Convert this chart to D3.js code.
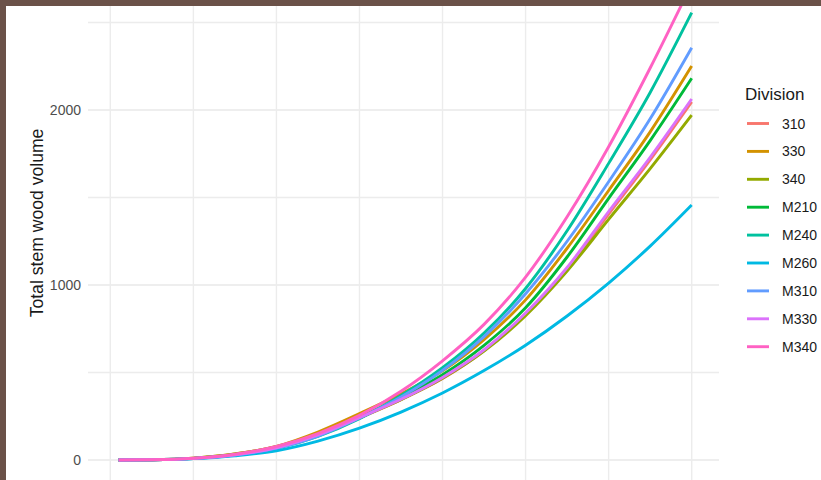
<!DOCTYPE html>
<html>
<head>
<meta charset="utf-8">
<script src="https://cdn.jsdelivr.net/npm/d3@7"></script>
<style>
  html, body { margin: 0; padding: 0; background: #ffffff; }
  svg { display: block; }
</style>
</head>
<body>
<script>
// Stem wood volume by diameter, one curve per ecological division
const divisions = ["310", "330", "340", "M210", "M240", "M260", "M310", "M330", "M340"];
const colors = ["#F8766D", "#D39200", "#93AA00", "#00BA38", "#00C19F", "#00B9E3", "#619CFF", "#DB72FB", "#FF61C3"];

const diameter = [1, 5, 10, 15, 20, 25, 30, 35, 40, 45, 50, 55, 60, 65, 70];
const vol310  = [0, 1.4, 9.5, 30, 70, 142, 240, 345, 465, 625, 835, 1090, 1405, 1715, 2046];
const vol330  = [0, 1.6, 11, 35, 78, 160, 265, 378, 510, 688, 915, 1210, 1540, 1875, 2251];
const vol340  = [0, 1.8, 11, 34, 76, 148, 243, 345, 467, 622, 825, 1080, 1375, 1665, 1971];
const volM210 = [0, 1.3, 9.3, 30, 70, 143, 245, 357, 487, 655, 870, 1160, 1495, 1825, 2181];
const volM240 = [0, 1.1, 8.5, 28, 66, 135, 236, 368, 527, 725, 980, 1310, 1695, 2100, 2556];
const volM260 = [0, 1.3, 8.0, 24.6, 53, 108, 182, 274, 383, 511, 656, 823, 1011, 1222, 1457];
const volM310 = [0, 1.1, 8.2, 28, 68, 137, 240, 360, 512, 705, 950, 1250, 1590, 1950, 2356];
const volM330 = [0, 1.4, 9.5, 30, 70, 143, 242, 347, 472, 630, 840, 1100, 1420, 1730, 2063];
const volM340 = [0, 1.4, 10, 33, 77, 151, 255, 393, 567, 775, 1045, 1390, 1790, 2240, 2720];

const volumes = [vol310, vol330, vol340, volM210, volM240, volM260, volM310, volM330, volM340];

const yMajor = [0, 1000, 2000];
const yMinor = [500, 1500, 2500];
const xGrid = [0, 10, 20, 30, 40, 50, 60, 70];

const W = 821, H = 480;
const fontFamily = "'Liberation Sans', Arial, Helvetica, sans-serif";

const svg = d3.select("body").append("svg")
  .attr("width", W).attr("height", H)
  .style("font-family", fontFamily);

svg.append("rect").attr("width", W).attr("height", H).attr("fill", "#ffffff");

const x = d3.scaleLinear().domain([0, 70]).range([110.3, 691.7]);
const y = d3.scaleLinear().domain([0, 2000]).range([460, 110]);

const panelLeft = 88, panelRight = 719;

// grid
const grid = svg.append("g");
grid.selectAll("line.hmin").data(yMinor).join("line")
  .attr("x1", panelLeft).attr("x2", panelRight)
  .attr("y1", d => y(d)).attr("y2", d => y(d))
  .attr("stroke", "#ececec").attr("stroke-width", 1.3);
grid.selectAll("line.hmaj").data(yMajor).join("line")
  .attr("x1", panelLeft).attr("x2", panelRight)
  .attr("y1", d => y(d)).attr("y2", d => y(d))
  .attr("stroke", "#e9e9e9").attr("stroke-width", 1.6);
grid.selectAll("line.v").data(xGrid).join("line")
  .attr("x1", d => x(d)).attr("x2", d => x(d))
  .attr("y1", 0).attr("y2", H)
  .attr("stroke", "#ececec").attr("stroke-width", 1.4);

// y axis labels
const yAxis = d3.axisLeft(y).tickValues(yMajor).tickSize(0).tickPadding(7).tickFormat(d3.format("d"));
const gy = svg.append("g").attr("transform", `translate(${panelLeft},0)`).call(yAxis);
gy.select(".domain").remove();
gy.selectAll("text")
  .attr("fill", "#4d4d4d")
  .style("font-size", "14px")
  .style("font-family", fontFamily);

// axis title
svg.append("text")
  .attr("transform", `translate(42.5,223) rotate(-90)`)
  .attr("text-anchor", "middle")
  .attr("fill", "#1a1a1a")
  .style("font-size", "17.6px")
  .text("Total stem wood volume");

// curves
const line = d3.line()
  .x((d, i) => x(diameter[i]))
  .y(d => y(d))
  .curve(d3.curveMonotoneX);

svg.append("g").selectAll("path").data(volumes).join("path")
  .attr("d", d => line(d))
  .attr("fill", "none")
  .attr("stroke", (d, i) => colors[i])
  .attr("stroke-width", 2.9);

// legend
const legend = svg.append("g");
legend.append("text")
  .attr("x", 745).attr("y", 99.5)
  .attr("fill", "#1a1a1a")
  .style("font-size", "17px")
  .text("Division");

const rows = legend.selectAll("g.row").data(divisions).join("g")
  .attr("transform", (d, i) => `translate(0,${123.5 + i * 27.9})`);
rows.append("line")
  .attr("x1", 747).attr("x2", 769)
  .attr("y1", 0).attr("y2", 0)
  .attr("stroke", (d, i) => colors[i])
  .attr("stroke-width", 2.9);
rows.append("text")
  .attr("x", 782).attr("y", 0).attr("dy", "0.36em")
  .attr("fill", "#1a1a1a")
  .style("font-size", "14px")
  .text(d => d);

// brown frame along the top and left edges
svg.append("rect").attr("x", 0).attr("y", 0).attr("width", W).attr("height", 6).attr("fill", "#6b5249");
svg.append("rect").attr("x", 0).attr("y", 0).attr("width", 6).attr("height", H).attr("fill", "#6b5249");
</script>
</body>
</html>
